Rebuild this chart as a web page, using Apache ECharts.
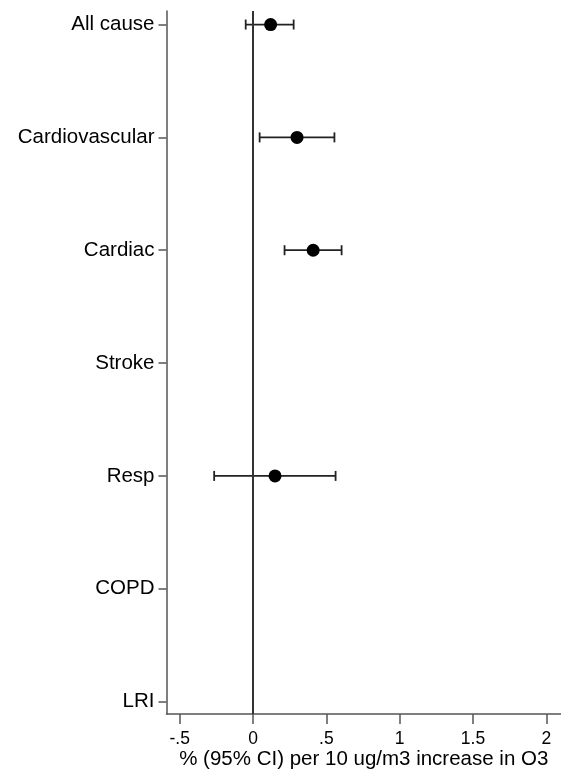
<!DOCTYPE html>
<html>
<head>
<meta charset="utf-8">
<script src="https://cdn.jsdelivr.net/npm/echarts@6/dist/echarts.min.js"></script>
<style>
html,body{margin:0;padding:0;background:#fff;}
#chart{width:561px;height:773px;}
</style>
</head>
<body>
<div id="chart"></div>
<script>
// Outcomes (top to bottom)
const categories = ['All cause', 'Cardiovascular', 'Cardiac', 'Stroke', 'Resp', 'COPD', 'LRI'];
// % change (95% CI) per 10 ug/m3 increase in O3
const estimates = [0.12, 0.30, 0.41, null, 0.15, null, null];
const lowerCI   = [-0.05, 0.045, 0.215, null, -0.265, null, null];
const upperCI   = [0.277, 0.555, 0.604, null, 0.563, null, null];
// x-axis ticks
const xTicks = [-0.5, 0, 0.5, 1, 1.5, 2];
const xTickLabels = ['-.5', '0', '.5', '1', '1.5', '2'];
const xTitle = '% (95% CI) per 10 ug/m3 increase in O3';
const refValue = 0;

const font = '"Liberation Sans", Arial, Helvetica, sans-serif';
const axisColor = '#555';

const pointData = [];
const barData = [];
categories.forEach((c, i) => {
  if (estimates[i] !== null) pointData.push([estimates[i], i]);
  if (lowerCI[i] !== null) barData.push([lowerCI[i], upperCI[i], i]);
});
const catIdx = categories.map((c, i) => i);

const chart = echarts.init(document.getElementById('chart'), null, {renderer: 'canvas'});
chart.setOption({
  animation: false,
  backgroundColor: '#fff',
  grid: {left: 166.5, right: 0, top: 11, bottom: 59, containLabel: false, outerBoundsMode: 'none'},
  xAxis: {
    type: 'value',
    min: -0.59, max: 2.1,
    axisLine: {show: true, onZero: false, lineStyle: {color: axisColor, width: 1.5}},
    axisTick: {show: true, length: 10, lineStyle: {color: axisColor, width: 1.5}, customValues: xTicks},
    axisLabel: {
      customValues: xTicks,
      margin: 16,
      fontSize: 17.5, fontFamily: font, color: '#000',
      formatter: v => { const k = xTicks.findIndex(t => Math.abs(t - v) < 1e-9); return k >= 0 ? xTickLabels[k] : ''; }
    },
    splitLine: {show: false},
    name: xTitle,
    nameLocation: 'middle',
    nameGap: 35,
    nameMoveOverlap: false,
    nameTextStyle: {fontSize: 20.5, fontFamily: font, color: '#000'}
  },
  yAxis: {
    type: 'value',
    inverse: true,
    min: -0.12, max: 6.11,
    axisLine: {show: true, onZero: false, lineStyle: {color: axisColor, width: 1.5}},
    axisTick: {show: true, length: 8, lineStyle: {color: axisColor, width: 1.5}, customValues: catIdx},
    axisLabel: {
      customValues: catIdx,
      margin: 12,
      fontSize: 20.5, fontFamily: font, color: '#000',
      formatter: v => categories[Math.round(v)] || ''
    },
    splitLine: {show: false}
  },
  series: [
    {
      type: 'line',
      data: [],
      silent: true,
      markLine: {
        silent: true,
        symbol: ['none', 'none'],
        label: {show: false},
        lineStyle: {color: '#333', width: 2, type: 'solid', opacity: 1},
        data: [{xAxis: refValue}]
      }
    },
    {
      type: 'custom',
      silent: true,
      data: barData,
      encode: {x: [0, 1], y: 2},
      renderItem: function (params, api) {
        const lo = api.coord([api.value(0), api.value(2)]);
        const hi = api.coord([api.value(1), api.value(2)]);
        const h = 5;
        const style = {stroke: '#222', lineWidth: 1.8};
        return {
          type: 'group',
          children: [
            {type: 'line', shape: {x1: lo[0], y1: lo[1], x2: hi[0], y2: hi[1]}, style: style},
            {type: 'line', shape: {x1: lo[0], y1: lo[1] - h, x2: lo[0], y2: lo[1] + h}, style: style},
            {type: 'line', shape: {x1: hi[0], y1: hi[1] - h, x2: hi[0], y2: hi[1] + h}, style: style}
          ]
        };
      },
      z: 3
    },
    {
      type: 'scatter',
      data: pointData,
      symbol: 'circle',
      symbolSize: 13,
      itemStyle: {color: '#000', opacity: 1},
      z: 4
    }
  ]
});
</script>
</body>
</html>
